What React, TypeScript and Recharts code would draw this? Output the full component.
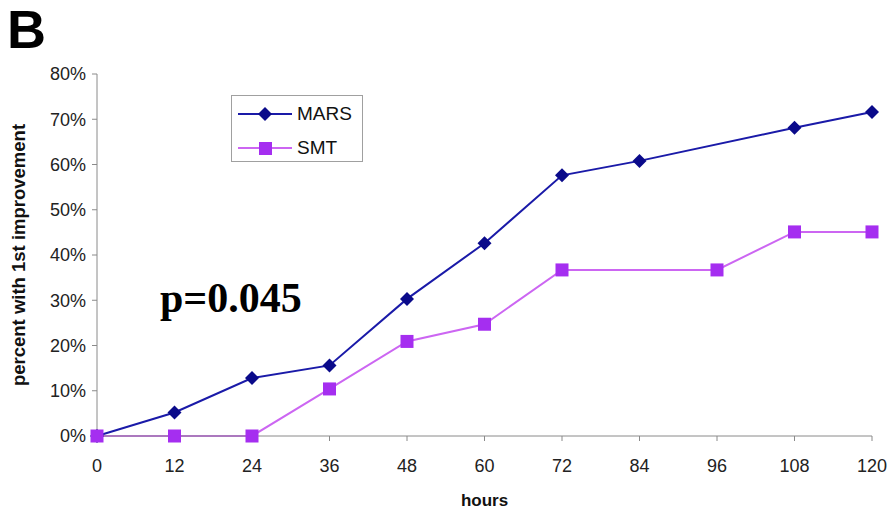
import { LineChart, Line, XAxis, YAxis, Label } from "recharts";

const hours = [0, 12, 24, 36, 48, 60, 72, 84, 96, 108, 120];
// percent of patients with first improvement; null where no measurement was plotted
const mars = [0, 5.2, 12.8, 15.6, 30.3, 42.6, 57.6, 60.8, null, 68.1, 71.6];
const smt = [0, 0, 0, 10.4, 20.9, 24.7, 36.7, null, 36.7, 45.1, 45.1];
const yTicks = [0, 10, 20, 30, 40, 50, 60, 70, 80];

const MARS_LINE = "#1a1aa8";
const MARS_DOT = "#0a0a8a";
const SMT_LINE = "#cc66f2";
const SMT_DOT = "#a52ef0";

const FONT = "Liberation Sans, Arial, sans-serif";

const rows = hours.map((h, i) => ({ hours: h, MARS: mars[i], SMT: smt[i] }));

const Diamond = (props: any) => {
  const { cx, cy, index } = props;
  if (cx == null || cy == null || props.value == null) return <g key={index} />;
  const r = 7;
  return (
    <polygon
      key={index}
      points={`${cx},${cy - r} ${cx + r},${cy} ${cx},${cy + r} ${cx - r},${cy}`}
      fill={MARS_DOT}
    />
  );
};

const Square = (props: any) => {
  const { cx, cy, index } = props;
  if (cx == null || cy == null || props.value == null) return <g key={index} />;
  const s = 13;
  return <rect key={index} x={cx - s / 2} y={cy - s / 2} width={s} height={s} fill={SMT_DOT} />;
};

const legendItems = [
  { name: "MARS", line: MARS_LINE, mark: <polygon points="27,2 34,9 27,16 20,9" fill={MARS_DOT} /> },
  { name: "SMT", line: SMT_LINE, mark: <rect x={21} y={3} width={13} height={13} fill={SMT_DOT} /> },
];

const LegendBox = () => (
  <div
    style={{
      position: "absolute",
      left: 231,
      top: 95,
      width: 132,
      height: 67,
      border: "1px solid #a0a0a0",
      background: "#fff",
      boxSizing: "border-box",
      fontFamily: FONT,
      fontSize: 19,
      color: "#111",
    }}
  >
    {legendItems.map((it, i) => (
      <div
        key={it.name}
        style={{ position: "absolute", left: 6, top: i === 0 ? 9 : 43, display: "flex", alignItems: "center", height: 18 }}
      >
        <svg width={54} height={18}>
          <line x1={0} y1={9} x2={54} y2={9} stroke={it.line} strokeWidth={2} />
          {it.mark}
        </svg>
        <span style={{ marginLeft: 5, lineHeight: "18px" }}>{it.name}</span>
      </div>
    ))}
  </div>
);

export default function App() {
  return (
    <div style={{ position: "absolute", left: 0, top: 0, width: 892, height: 511, background: "#fff" }}>
      <LineChart
        width={892}
        height={511}
        data={rows}
        margin={{ top: 74, right: 20, bottom: 0, left: 0 }}
        style={{ fontFamily: FONT }}
      >
        <XAxis
          dataKey="hours"
          type="number"
          domain={[0, 120]}
          ticks={hours}
          height={75}
          stroke="#8a8a8a"
          tickSize={5}
          tick={{ fill: "#222", fontSize: 18 }}
          tickMargin={18}
        >
          <Label value="hours" position="insideBottom" offset={5} style={{ fontWeight: "bold", fontSize: 17, fill: "#111" }} />
        </XAxis>
        <YAxis
          type="number"
          domain={[0, 80]}
          ticks={yTicks}
          width={97}
          stroke="#8a8a8a"
          tickSize={5}
          tick={{ fill: "#222", fontSize: 18 }}
          tickMargin={6}
          tickFormatter={(v) => `${v}%`}
        >
          <Label
            value="percent with 1st improvement"
            angle={-90}
            position="insideLeft"
            offset={18}
            style={{ fontWeight: "bold", fontSize: 18.5, fill: "#111", textAnchor: "middle" }}
          />
        </YAxis>
        <Line
          dataKey="MARS"
          stroke={MARS_LINE}
          strokeWidth={2}
          dot={<Diamond />}
          activeDot={false}
          connectNulls
          isAnimationActive={false}
        />
        <Line
          dataKey="SMT"
          stroke={SMT_LINE}
          strokeWidth={2}
          dot={<Square />}
          activeDot={false}
          connectNulls
          isAnimationActive={false}
        />
      </LineChart>
      <LegendBox />
      <div
        style={{
          position: "absolute",
          left: 7,
          top: 2,
          fontFamily: FONT,
          fontWeight: "bold",
          fontSize: 54,
          lineHeight: "54px",
          color: "#000",
        }}
      >
        B
      </div>
      <div
        style={{
          position: "absolute",
          left: 160,
          top: 276,
          fontFamily: "Liberation Serif, Times New Roman, serif",
          fontWeight: "bold",
          fontSize: 42,
          lineHeight: "44px",
          color: "#000",
        }}
      >
        p=0.045
      </div>
    </div>
  );
}
